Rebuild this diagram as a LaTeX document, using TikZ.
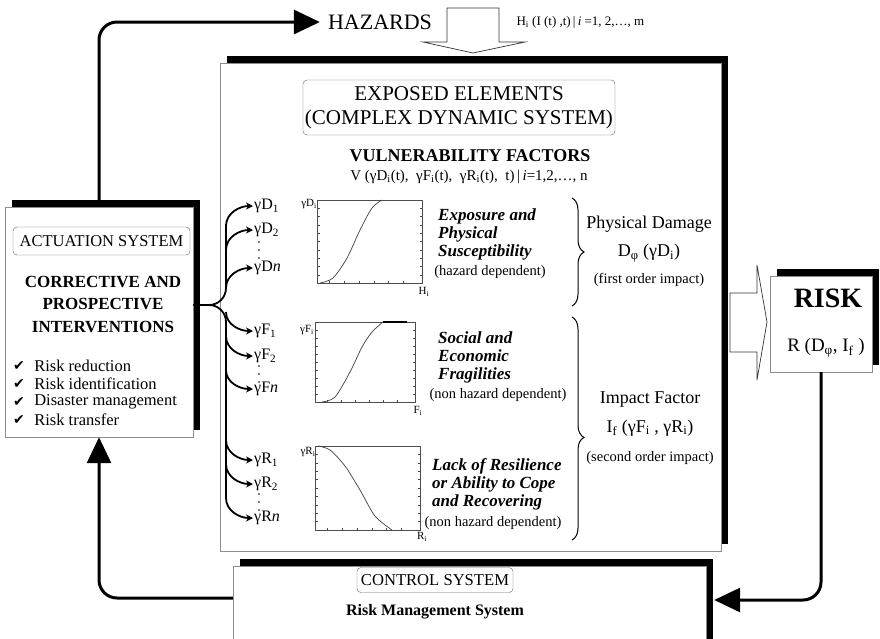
\documentclass[tikz,border=0pt]{standalone}
\usepackage{fontspec}
\setmainfont{Liberation Serif}
\newfontfamily\symfont{DejaVu Sans}
\usetikzlibrary{arrows.meta,shadows,decorations.pathreplacing,positioning}

\tikzset{
  bigbox/.style={draw=black!45, fill=white, thin, inner sep=0pt,
    general shadow={fill=black, shadow xshift=7pt, shadow yshift=7pt}},
  tagbox/.style={draw=black!60, rounded corners=4pt, inner sep=2pt},
  loopline/.style={line width=3pt, rounded corners=18pt,
    -{Triangle[length=26pt,width=24pt]}},
  hollow/.style={draw=black!80, fill=white, line width=0.7pt},
  trunk/.style={line width=1.8pt},
  branch/.style={line width=1.8pt, -{Stealth[length=7pt,width=7pt]}},
  curly/.style={decorate, decoration={brace, amplitude=12pt}, line width=1pt},
  plotbox/.style={draw=black!70, line width=0.5pt},
  curve/.style={draw=black!75, line width=0.7pt},
  vlab/.style={font=\fontsize{16}{16}\selectfont, anchor=west, inner sep=1pt},
  alab/.style={font=\fontsize{11}{11}\selectfont, inner sep=0pt},
  factor/.style={font=\fontsize{17}{18}\selectfont\bfseries\itshape, align=left, anchor=west, inner sep=0pt},
  dep/.style={font=\fontsize{14.5}{14.5}\selectfont, inner sep=0pt},
  effect/.style={font=\fontsize{18}{18}\selectfont, inner sep=0pt},
}

\begin{document}
\begin{tikzpicture}[x=1pt,y=-1pt]
  \useasboundingbox (0,0) rectangle (880,638);
  \clip (0,0) rectangle (880,638);

  % the four boxes
  \node[bigbox, minimum width=501pt, minimum height=488pt] (expo) at (470.5,307) {};
  \node[bigbox, minimum width=188pt, minimum height=230pt] (act) at (99,322) {};
  \node[bigbox, minimum width=102pt, minimum height=96pt] (risk) at (821,324) {};
  \node[bigbox, minimum width=473pt, minimum height=80pt] (ctrl) at (469.5,606) {};

  % hazards
  \node[font=\fontsize{22}{22}\selectfont, inner sep=2pt] (haz) at (380,22) {HAZARDS};
  \node[anchor=west, font=\fontsize{13}{13}\selectfont] (hazeq) at (513,22)
    {H\textsubscript{i} (I (t) ,t)\,|\,\textit{i} =1, 2,…, m};
  \draw[hollow] (447,8) -- (499,8) -- (499,42) -- (525,42) -- (473,53)
    -- (423,42) -- (447,42) -- cycle;

  % loops
  \draw[loopline, shorten >=6pt] (act.north) |- (haz.west);
  \draw[loopline] (risk.south) |- ([xshift=8pt,yshift=6pt]ctrl.east);
  \draw[loopline] ([yshift=8pt]ctrl.west) -| (act.south);

  % actuation system
  \node[tagbox, minimum width=177pt, minimum height=28pt,
    font=\fontsize{16.5}{16.5}\selectfont] (acttag) at (101.5,241) {ACTUATION SYSTEM};
  \node[font=\fontsize{17}{22.5}\selectfont\bfseries, align=center] (interv) at (103,304)
    {CORRECTIVE AND\\PROSPECTIVE\\INTERVENTIONS};
  \foreach \y/\t [count=\i] in {366/Risk reduction, 384/Risk identification,
      402/Disaster management, 420/Risk transfer} {
    \node[anchor=west, inner sep=0pt, font=\symfont\fontsize{14}{14}\selectfont] (chk\i) at (13,\y) {✔};
    \node[right=9pt of chk\i, inner sep=0pt, font=\fontsize{16.5}{16.5}\selectfont] {\t};
  }

  % exposed elements
  \node[tagbox, minimum width=306pt, minimum height=55pt,
    font=\fontsize{21}{24}\selectfont, align=center] (expotag) at (459,107.5)
    {EXPOSED ELEMENTS\\(COMPLEX DYNAMIC SYSTEM)};
  \node[font=\fontsize{18}{18}\selectfont\bfseries] (vul) at (470,156) {VULNERABILITY FACTORS};
  \node[font=\fontsize{15}{15}\selectfont] (veq) at (469,177)
    {V (γD\textsubscript{i}(t), \ γF\textsubscript{i}(t), \ γR\textsubscript{i}(t), \ t)\,|\,\textit{i}=1,2,…, n};

  % factor labels
  \node[vlab] (d1) at (253,206) {γD\textsubscript{1}};
  \node[vlab] (d2) at (253,230) {γD\textsubscript{2}};
  \node[vlab] (dn) at (253,268) {γD\textit{n}};
  \node[vlab] (f1) at (253,331) {γF\textsubscript{1}};
  \node[vlab] (f2) at (253,356) {γF\textsubscript{2}};
  \node[vlab] (fn) at (253,389) {γF\textit{n}};
  \node[vlab] (r1) at (253,460) {γR\textsubscript{1}};
  \node[vlab] (r2) at (253,484) {γR\textsubscript{2}};
  \node[vlab] (rn) at (253,518) {γR\textit{n}};
  \foreach \y in {242,250,258, 366,374,382, 494,502,510}
    \fill (259,\y) circle (0.9);

  % branching from the actuation box
  \coordinate (fork) at (209,305);
  \draw[trunk] ([yshift=17pt]act.east) -- (fork);
  \draw[trunk] (fork) to[out=0,in=-90] (226,288) -- (226,224);
  \draw[trunk] (fork) to[out=0,in=90] (226,322) -- (226,499);
  \foreach \n/\y in {d1/226, d2/250, dn/288}
    \draw[branch] (226,\y) to[out=90,in=180] (\n.west);
  \foreach \n/\y in {f1/312, f2/336, fn/370, r1/440, r2/464, rn/498}
    \draw[branch] (226,\y) to[out=-90,in=180] (\n.west);

  % curves
  \draw[plotbox] (317,200) rectangle (422,283);
  \draw[curve] plot[smooth] coordinates {(320,283) (333,278) (347,258) (360,230) (372,208) (382,200)};
  \node[alab] (gd) at (309,204) {γD\textsubscript{i}};
  \node[alab] (gh) at (424,292) {H\textsubscript{i}};

  \draw[plotbox] (315,322) rectangle (415,402);
  \draw[curve] plot[smooth] coordinates {(322,402) (335,397) (350,372) (362,347) (372,332) (383,322)};
  \draw[line width=1.2pt] (383,322) -- (407,322);
  \node[alab] (gf) at (307,330) {γF\textsubscript{i}};
  \node[alab] (gfx) at (418,411) {F\textsubscript{i}};

  \draw[plotbox] (315,446) rectangle (420,530);
  \draw[curve] plot[smooth] coordinates {(318,446) (330,450) (345,466) (360,490) (375,516) (392,530)};
  \node[alab] (gr) at (308,452) {γR\textsubscript{i}};
  \node[alab] (grx) at (422,537) {R\textsubscript{i}};

  \foreach \a/\b/\c/\d in {317/200/422/283, 315/322/415/402, 315/446/420/530} {
    \foreach \t in {0.1,0.2,...,0.95}
      \draw[black!70, line width=0.4pt] (\a,{\b+\t*(\d-\b)}) -- ++(2.5,0)
        (\c,{\b+\t*(\d-\b)}) -- ++(-2.5,0);
    \foreach \t in {0.12,0.26,...,0.95}
      \draw[black!70, line width=0.4pt] ({\a+\t*(\c-\a)},\d) -- ++(0,-2.5);
  }

  % factor descriptions
  \node[factor] (expos) at (438,234) {Exposure and\\Physical\\Susceptibility};
  \node[dep] (hdep) at (490,272) {(hazard dependent)};
  \node[factor] (social) at (438,357) {Social and\\Economic\\Fragilities};
  \node[dep] (ndep1) at (498,395) {(non hazard dependent)};
  \node[factor] (lack) at (432,484) {Lack of Resilience\\or Ability to Cope\\and Recovering};
  \node[dep] (ndep2) at (493,523) {(non hazard dependent)};

  % braces and impacts
  \draw[curly] (572,198) -- (572,306);
  \draw[decorate, decoration={brace, amplitude=12pt, aspect=0.54}, line width=1pt] (572,317) -- (572,540);
  \node[effect] (pdam) at (649,224) {Physical Damage};
  \node[effect] (dphi) at (649,253) {D\textsubscript{φ} (γD\textsubscript{i})};
  \node[dep] (first) at (649,280) {(first order impact)};
  \node[effect] (impf) at (650,400) {Impact Factor};
  \node[effect] (ifeq) at (650,428) {I\textsubscript{f} (γF\textsubscript{i} , γR\textsubscript{i})};
  \node[dep] (second) at (650,458) {(second order impact)};

  % risk
  \draw[hollow] (730,293) -- (757,293) -- (757,265) -- (767,322) -- (757,380)
    -- (757,352) -- (730,352) -- cycle;
  \node[font=\fontsize{28}{28}\selectfont\bfseries] (risktxt) at (828,298) {RISK};
  \node[font=\fontsize{19}{19}\selectfont] (riskeq) at (826,348) {R (D\textsubscript{φ}, I\textsubscript{f} )};

  % control system
  \node[tagbox, minimum width=156pt, minimum height=25pt,
    font=\fontsize{16.6}{16.6}\selectfont] (ctrltag) at (435,580) {CONTROL SYSTEM};
  \node[font=\fontsize{16}{16}\selectfont\bfseries] (rms) at (435,612) {Risk Management System};
\end{tikzpicture}
\end{document}
